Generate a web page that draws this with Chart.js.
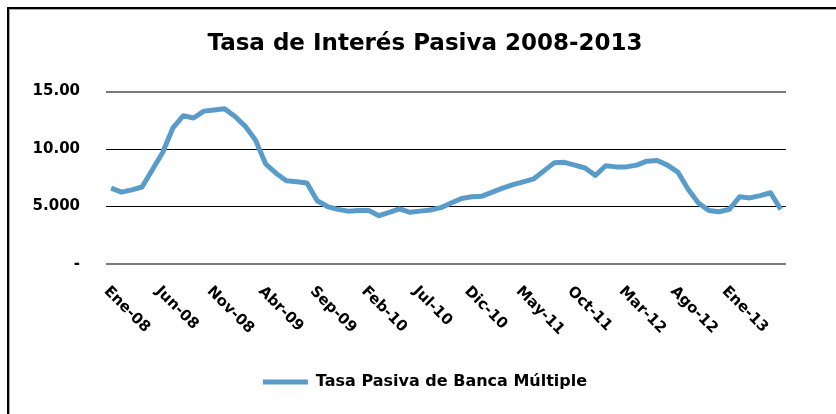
<!DOCTYPE html>
<html>
<head>
<meta charset="utf-8">
<script src="https://cdn.jsdelivr.net/npm/chart.js@4.4.1/dist/chart.umd.min.js"></script>
<style>
  html, body { margin: 0; padding: 0; background: #fff; }
  #wrap { position: relative; width: 836px; height: 414px; overflow: hidden; }
  #frame {
    position: absolute; left: 7px; top: 7px; width: 900px; height: 500px;
    border-left: 2px solid #000; border-top: 2px solid #000;
    box-shadow: inset 1px 1px 0 #aaa; pointer-events: none;
  }
</style>
</head>
<body>
<div id="wrap">
  <canvas id="chart" width="836" height="414"></canvas>
  <div id="frame"></div>
</div>
<script>
const months = ['Ene', 'Feb', 'Mar', 'Abr', 'May', 'Jun', 'Jul', 'Ago', 'Sep', 'Oct', 'Nov', 'Dic'];
const years = ['08', '09', '10', '11', '12', '13'];
const lastMonth = 'Jun-13';

const categories = [];
for (const y of years) {
    for (const m of months) {
        if (categories[categories.length - 1] === lastMonth) break;
        categories.push(m + '-' + y);
    }
}

const tasaPasiva = [
    6.6, 6.25, 6.45, 6.7, 8.2, 9.7, 11.85, 12.9, 12.7, 13.3, 13.4, 13.5,
    12.85, 12.0, 10.8, 8.7, 7.9, 7.25, 7.15, 7.05, 5.5, 5.0, 4.75, 4.6,
    4.65, 4.65, 4.2, 4.5, 4.8, 4.5, 4.6, 4.7, 4.9, 5.3, 5.7, 5.85,
    5.9, 6.25, 6.6, 6.9, 7.15, 7.4, 8.1, 8.8, 8.85, 8.6, 8.35, 7.7,
    8.55, 8.45, 8.45, 8.6, 8.95, 9.0, 8.6, 8.0, 6.5, 5.3, 4.65, 4.55,
    4.75, 5.85, 5.75, 5.95, 6.2, 4.75
];

const xTickLabels = ['Ene-08', 'Jun-08', 'Nov-08', 'Abr-09', 'Sep-09', 'Feb-10', 'Jul-10',
    'Dic-10', 'May-11', 'Oct-11', 'Mar-12', 'Ago-12', 'Ene-13'];
const yTickValues = [0, 5, 10, 15];
const yTickLabels = ['-', '5.000', '10.00', '15.00'];

const FONT = 'DejaVu Sans';

// x labels run down to the right, so they are drawn here instead of by the axis
const slantedLabels = {
    id: 'slantedLabels',
    afterDraw(chart) {
        const xs = chart.scales.x;
        const ctx = chart.ctx;
        ctx.save();
        ctx.font = 'bold 15px ' + FONT;
        ctx.fillStyle = '#000';
        ctx.textAlign = 'left';
        ctx.textBaseline = 'middle';
        xTickLabels.forEach(lab => {
            const i = categories.indexOf(lab);
            const x = xs.getPixelForValue(i);
            ctx.save();
            ctx.translate(x - 5, xs.top + 25);
            ctx.rotate(Math.PI / 4);
            ctx.fillText(lab, 0, 0);
            ctx.restore();
        });
        ctx.restore();
    }
};

new Chart(document.getElementById('chart'), {
    type: 'line',
    data: {
        labels: categories,
        datasets: [{
            label: 'Tasa Pasiva de Banca Múltiple',
            data: tasaPasiva,
            borderColor: '#5a9cc9',
            backgroundColor: '#5a9cc9',
            borderWidth: 5,
            pointRadius: 0,
            tension: 0,
            borderJoinStyle: 'round'
        }]
    },
    options: {
        responsive: false,
        animation: false,
        layout: { padding: { left: 14, right: 0, top: 0, bottom: 14 } },
        plugins: {
            title: {
                display: true,
                text: 'Tasa de Interés Pasiva 2008-2013',
                color: '#000',
                font: { family: FONT, size: 23, weight: 'bold' },
                padding: { top: 30, bottom: 34 }
            },
            legend: {
                position: 'bottom',
                labels: {
                    usePointStyle: true,
                    pointStyle: 'line',
                    pointStyleWidth: 45,
                    color: '#000',
                    padding: 10,
                    font: { family: FONT, size: 16, weight: 'bold' }
                }
            },
            tooltip: { enabled: false }
        },
        scales: {
            x: {
                offset: true,
                ticks: { display: false },
                grid: { display: false },
                border: { display: false },
                afterFit(scale) { scale.height = 100; }
            },
            y: {
                min: 0,
                max: 15,
                afterBuildTicks(scale) { scale.ticks = yTickValues.map(v => ({ value: v })); },
                ticks: {
                    padding: 26,
                    color: '#000',
                    font: { family: FONT, size: 15, weight: 'bold' },
                    callback: v => yTickLabels[yTickValues.indexOf(v)]
                },
                grid: {
                    drawTicks: false,
                    color: c => (c.tick && (c.tick.value === 0 || c.tick.value === 15)) ? '#7a7a7a' : '#000',
                    lineWidth: c => (c.tick && (c.tick.value === 0 || c.tick.value === 15)) ? 2 : 1
                },
                border: { display: false },
                afterFit(scale) { scale.width = 92; }
            },
            spacer: {
                position: 'right',
                display: true,
                ticks: { display: false },
                grid: { display: false, drawOnChartArea: false },
                border: { display: false },
                afterFit(scale) { scale.width = 50; }
            }
        }
    },
    plugins: [slantedLabels]
});
</script>
</body>
</html>
